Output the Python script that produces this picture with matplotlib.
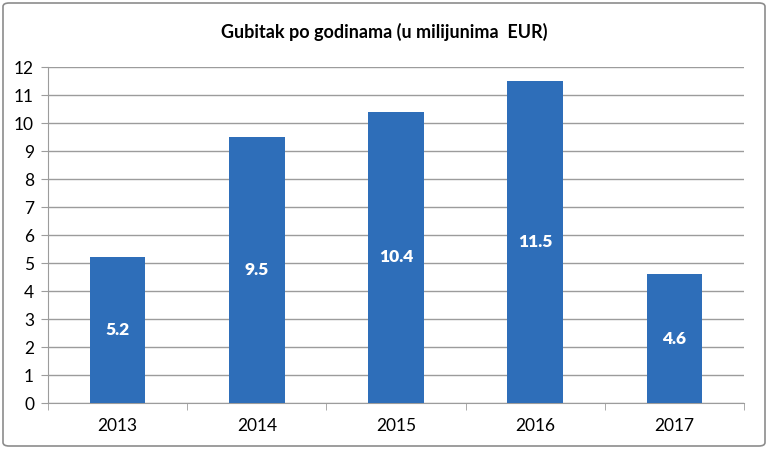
import matplotlib.pyplot as plt
from matplotlib.patches import FancyBboxPatch

years = ['2013', '2014', '2015', '2016', '2017']
losses = [5.2, 9.5, 10.4, 11.5, 4.6]
y_ticks = list(range(0, 13))

plt.rcParams['font.family'] = ['Lato', 'DejaVu Sans']

fig = plt.figure(figsize=(7.68, 4.49), dpi=100)
ax = fig.add_axes([48 / 768, 46 / 449, 696 / 768, 336 / 449])

# outer rounded border like the spreadsheet chart frame
frame = FancyBboxPatch((3 / 768, 3 / 449), 762 / 768, 443 / 449,
                       boxstyle='round,pad=0,rounding_size=0.008',
                       transform=fig.transFigure, fill=False,
                       edgecolor='#8c8c8c', linewidth=1.2)
fig.patches.append(frame)

x = range(len(years))
bars = ax.bar(x, losses, width=0.4, color='#2e6eb9', zorder=3)

for i, v in enumerate(losses):
    ax.text(i, v / 2, f'{v}', ha='center', va='center', color='white',
            fontsize=12.5, fontweight='heavy', zorder=4)

ax.set_xlim(-0.5, len(years) - 0.5)
ax.set_ylim(0, 12)
ax.set_yticks(y_ticks)
ax.set_yticklabels([str(t) for t in y_ticks], fontsize=12.5)
ax.set_xticks(x)
ax.set_xticklabels(years, fontsize=12.5)
ax.set_xticks([i - 0.5 for i in range(len(years) + 1)], minor=True)

ax.grid(axis='y', color='#9c9c9c', linewidth=1, zorder=0)
for side in ['top', 'right']:
    ax.spines[side].set_visible(False)
ax.spines['left'].set_color('#9c9c9c')
ax.spines['bottom'].set_color('#9c9c9c')
ax.tick_params(axis='y', length=5, color='#9c9c9c', pad=5)
ax.tick_params(axis='x', which='major', length=0, pad=11)
ax.tick_params(axis='x', which='minor', length=5, color='#9c9c9c')

fig.text(0.5, 1 - 32 / 449, 'Gubitak po godinama (u milijunima  EUR)',
         ha='center', va='center', fontsize=13, fontweight='bold')

fig.savefig('out.png', dpi=100)
